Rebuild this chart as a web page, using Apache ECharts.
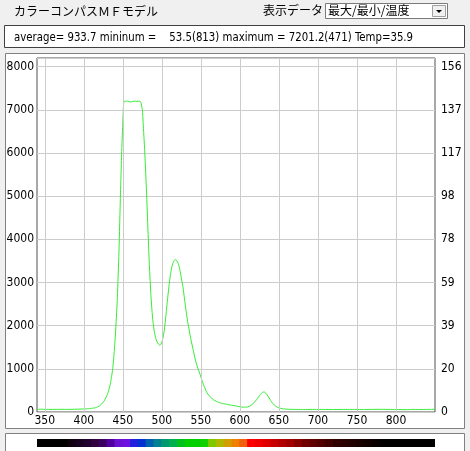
<!DOCTYPE html>
<html>
<head>
<meta charset="utf-8">
<script src="https://cdn.jsdelivr.net/npm/echarts@6/dist/echarts.min.js"></script>
<style>
  html, body { margin: 0; padding: 0; background: #f0f0f0; }
  #chart { width: 470px; height: 451px; }
</style>
</head>
<body>
<div id="chart"></div>
<script>
// spectrum (wavelength nm / count)
var waveLength = [340, 345, 350, 360, 370, 380, 390, 400, 405, 410, 415, 420, 425, 428, 431, 434, 437, 439, 441, 443, 445, 447, 448.3, 449.6, 450.5, 451.5,
  456, 460, 464, 468, 471, 473, 475, 476, 478, 480, 482, 484, 486, 488, 490, 492, 494, 496, 497.5, 499, 501, 503, 505, 507, 509, 511, 513, 515, 517, 519,
  521, 523, 525, 527, 529, 531, 533, 535, 537, 540, 543, 546, 549, 552, 555, 558, 562, 566, 570, 575, 580, 585, 590, 595, 600, 605, 610, 614, 618, 622,
  626, 629, 631, 633, 636, 639, 642, 646, 650, 655, 660, 670, 680, 700, 720, 740, 760, 780, 800, 813, 820, 830, 840, 850]
var intensity = [60, 65, 62, 60, 62, 60, 65, 70, 75, 85, 100, 140, 230, 320, 450, 650, 1000, 1400, 1950, 2650, 3700, 5075, 5900, 6550, 6950, 7190,
  7200, 7180, 7200, 7195, 7201, 7180, 7000, 6700, 6050, 5250, 4300, 3400, 2700, 2200, 1900, 1720, 1620, 1565, 1545, 1580, 1680, 1880, 2200, 2560, 2900, 3180,
  3380, 3480, 3530, 3510, 3440, 3300, 3100, 2900, 2620, 2350, 2100, 1900, 1700, 1450, 1200, 1020, 870, 700, 560, 440, 350, 285, 245, 210, 190, 170, 155,
  140, 120, 112, 118, 150, 215, 300, 400, 455, 465, 440, 370, 280, 200, 130, 95, 75, 65, 60, 58, 60, 58, 60, 58, 62, 57, 54, 60, 58, 60, 62]

var xGrid = [350, 400, 450, 500, 550, 600, 650, 700, 750, 800]
var leftTicks = [0, 1000, 2000, 3000, 4000, 5000, 6000, 7000, 8000]
var rightTicks = [0, 20, 39, 59, 78, 98, 117, 137, 156]

// colour bar, one cell per 10nm from 340nm
var barColors = ['#000000', '#000000', '#000000', '#000000', '#100010', '#180020', '#200030', '#300040', '#3a0060', '#5000a0',
  '#6a10d0', '#7010e0', '#2020e0', '#0030d0', '#0060b0', '#008090', '#009870', '#00b050', '#00c020', '#00d000',
  '#00d000', '#10d000', '#80c800', '#b0b800', '#d0a000', '#f08000', '#f06010', '#ff0000', '#f00000', '#e00000',
  '#c80000', '#b00000', '#a00000', '#880000', '#700000', '#600000', '#500000', '#400000', '#300000', '#280000',
  '#200000', '#180000', '#100000', '#080000', '#000000', '#000000', '#000000', '#000000', '#000000', '#000000', '#000000']

var infoText = 'average= 933.7 mininum =    53.5(813) maximum = 7201.2(471) Temp=35.9'
var narrow = "'Liberation Sans Narrow', 'DejaVu Sans Condensed', Arial, sans-serif"
var jp = "'Noto Sans CJK JP', sans-serif"

var myChart = echarts.init(document.getElementById('chart'))
var lineData = []
for (var i = 0; i < waveLength.length; i++) {
  lineData.push([waveLength[i], intensity[i]])
}

var option = {
  backgroundColor: '#f0f0f0',
  animation: false,
  graphic: [
    { type: 'text', left: 14, top: 5, z: 10, style: { text: 'カラーコンパスＭＦモデル', font: '12px ' + jp, fill: '#000' } },
    { type: 'text', left: 263, top: 4, z: 10, style: { text: '表示データ', font: '12px ' + jp, fill: '#000' } },
    { type: 'rect', shape: { x: 325.5, y: 3.5, width: 122, height: 15 }, z: 10, style: { fill: '#fff', stroke: '#7a7a7a' } },
    { type: 'text', left: 328, top: 4, z: 11, style: { text: '最大/最小/温度', font: '12px ' + jp, fill: '#000' } },
    { type: 'rect', shape: { x: 432.5, y: 5.5, width: 13, height: 11 }, z: 11, style: { fill: '#f0f0f0', stroke: '#a0a0a0' } },
    { type: 'polygon', shape: { points: [[436, 10], [442, 10], [439, 13]] }, z: 12, style: { fill: '#000' } },
    // info box
    { type: 'rect', shape: { x: 4.5, y: 25.5, width: 460, height: 22 }, z: -1, style: { fill: '#fff', stroke: '#404040' } },
    { type: 'text', x: 14, y: 31, scaleX: 0.87, z: 10, style: { text: infoText, font: '13px ' + narrow, fill: '#000' } },
    // chart panel
    { type: 'rect', shape: { x: 5.5, y: 53.5, width: 459, height: 375 }, z: -1, style: { fill: '#fff', stroke: '#808080' } },
    // colour bar panel
    { type: 'rect', shape: { x: 5.5, y: 433.5, width: 459, height: 20 }, z: -1, style: { fill: '#fff', stroke: '#808080' } }
  ],
  grid: [
    { left: 37, top: 58, right: 35, bottom: 39, show: true, borderColor: '#505050', borderWidth: 1, backgroundColor: '#fff' },
    { left: 37, top: 439, right: 35, height: 8 }
  ],
  xAxis: [
    {
      type: 'value',
      min: 340,
      max: 850,
      interval: 10,
      axisLine: { show: false },
      axisTick: { show: false },
      splitLine: { show: false },
      axisLabel: {
        color: '#000',
        fontSize: 12,
        fontFamily: narrow,
        margin: 3,
        showMaxLabel: false,
        formatter: function (v) { return xGrid.indexOf(v) !== -1 ? String(v) : '' }
      }
    },
    {
      type: 'category',
      gridIndex: 1,
      data: barColors.map(function (c, k) { return 340 + k * 10 }),
      show: false
    }
  ],
  yAxis: [
    {
      type: 'value',
      min: 0,
      max: 8200,
      interval: 1000,
      axisLine: { show: false },
      axisTick: { show: false },
      splitLine: { lineStyle: { color: '#cccccc' } },
      axisLabel: {
        color: '#000',
        fontSize: 12,
        fontFamily: narrow,
        margin: 3,
        showMaxLabel: false,
        formatter: function (v) { return leftTicks.indexOf(v) !== -1 ? String(v) : '' }
      }
    },
    {
      type: 'value',
      position: 'right',
      min: 0,
      max: 8200,
      interval: 1000,
      axisLine: { show: false },
      axisTick: { show: false },
      splitLine: { show: false },
      axisLabel: {
        color: '#000',
        fontSize: 12,
        fontFamily: narrow,
        margin: 6,
        showMaxLabel: false,
        formatter: function (v) { var k = leftTicks.indexOf(v); return k !== -1 ? String(rightTicks[k]) : '' }
      }
    },
    { type: 'value', gridIndex: 1, min: 0, max: 1, show: false }
  ],
  series: [
    {
      type: 'line',
      data: [],
      z: 1,
      markLine: {
        silent: true,
        symbol: 'none',
        label: { show: false },
        lineStyle: { color: '#cccccc', type: 'solid', width: 1 },
        data: xGrid.map(function (v) { return { xAxis: v } })
      }
    },
    {
      name: 'spectrum',
      type: 'line',
      data: lineData,
      z: 3,
      symbol: 'none',
      smooth: 0.2,
      lineStyle: { color: '#33ee33', width: 1 }
    },
    {
      type: 'bar',
      xAxisIndex: 1,
      yAxisIndex: 2,
      barWidth: 9,
      data: barColors.map(function (c) { return { value: 1, itemStyle: { color: c } } })
    }
  ]
}
myChart.setOption(option)
</script>
</body>
</html>
